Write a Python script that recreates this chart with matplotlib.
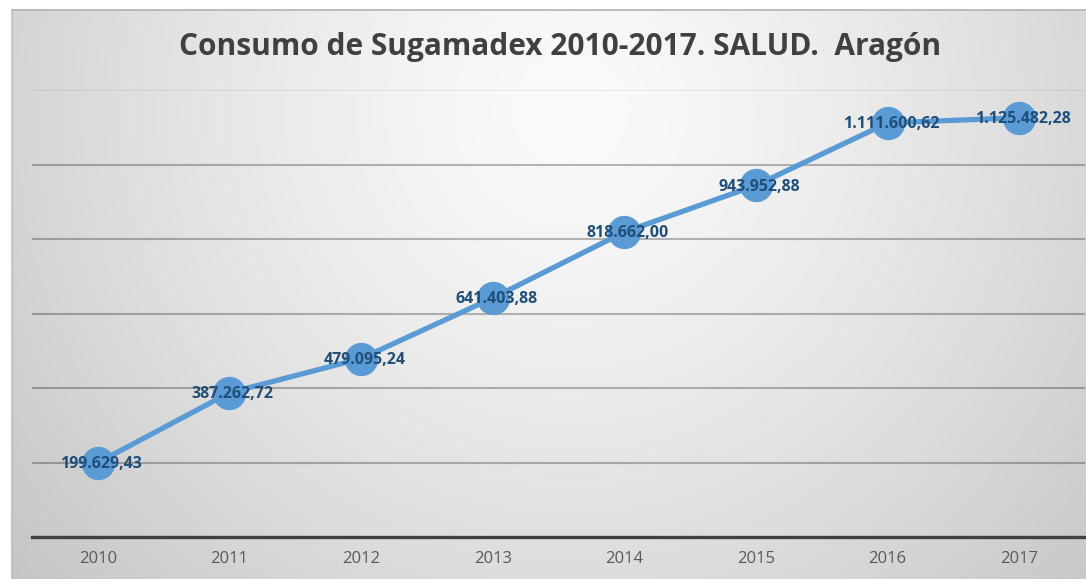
import numpy as np
import matplotlib
matplotlib.use("Agg")
import matplotlib.pyplot as plt

years = ["2010", "2011", "2012", "2013", "2014", "2015", "2016", "2017"]
values = [199629.43, 387262.72, 479095.24, 641403.88, 818662.00, 943952.88, 1111600.62, 1125482.28]
labels = ["199.629,43", "387.262,72", "479.095,24", "641.403,88", "818.662,00",
          "943.952,88", "1.111.600,62", "1.125.482,28"]
title = "Consumo de Sugamadex 2010-2017. SALUD.  Aragón"

W, H = 1086, 579
fig = plt.figure(figsize=(W / 100, H / 100), dpi=100)
fig.patch.set_facecolor("white")

# background box with radial gradient
bx0, by0 = 11, 9
bg = fig.add_axes([bx0 / W, 0, 1 - bx0 / W, (H - by0) / H])
bg.set_axis_off()
xs = np.arange(bx0, W)
ys = np.arange(by0, H)
X, Y = np.meshgrid(xs, ys)
r = np.sqrt(((X - 570) / 600) ** 2 + ((Y - 110) / 600) ** 2)
c = np.clip(251 - 42 * r ** 1.3, 190, 252) / 255
img = np.dstack([c, c, c])
bg.imshow(img, aspect="auto", extent=[0, 1, 0, 1], origin="upper")
bg.set_xlim(0, 1)
bg.set_ylim(0, 1)
bg.plot([0, 1], [1 - 0.5 / (H - by0), 1 - 0.5 / (H - by0)], color="#b4b4b4", lw=1.2)
bg.plot([0.5 / (W - bx0), 0.5 / (W - bx0)], [0, 1], color="#c0c0c0", lw=1)

ax_l, ax_r = 32 / W, 1085 / W
ax_b, ax_t = (H - 537) / H, (H - 90) / H
ax = fig.add_axes([ax_l, ax_b, ax_r - ax_l, ax_t - ax_b])
ax.patch.set_alpha(0)
x = np.arange(len(years))
ax.set_xlim(-0.5, len(years) - 0.5)
ax.set_ylim(0, 1200000)

for gv in [200000, 400000, 600000, 800000, 1000000]:
    ax.axhline(gv, color="black", alpha=0.27, lw=1.5, zorder=1)
ax.axhline(1200000, color="black", alpha=0.09, lw=1.2, zorder=1)

ax.plot(x, values, color="#5b9bd5", lw=3.8, marker="o", markersize=23,
        markerfacecolor="#5b9bd5", markeredgecolor="#5b9bd5", zorder=3,
        solid_capstyle="round")

for xi, v, lab in zip(x, values, labels):
    ax.annotate(lab, (xi, v), xytext=(2.5, -1), textcoords="offset points",
                ha="center", va="center", fontsize=11.5, fontweight="bold",
                color="#1f4e79", family="Open Sans", zorder=4)

for s in ["left", "right", "top"]:
    ax.spines[s].set_visible(False)
ax.spines["bottom"].set_color("#404040")
ax.spines["bottom"].set_linewidth(2.4)
ax.set_yticks([])
ax.set_xticks(x)
ax.set_xticklabels(years, fontsize=12, color="#595959", family="Open Sans")
ax.tick_params(axis="x", length=0, pad=10)

fig.text(560 / W, 1 - 47 / H, title, ha="center", va="center", fontsize=21.5,
         fontweight="bold", color="#404040", family="Open Sans")

fig.savefig("out.png", dpi=100)
